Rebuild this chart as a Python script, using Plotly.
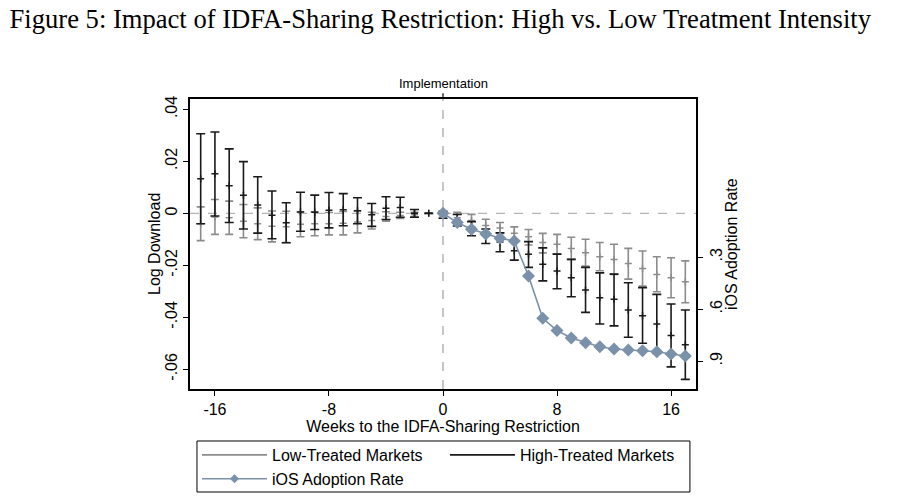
import plotly.graph_objects as go

weeks = list(range(-17, 18))

high_pt = [0.0133, 0.0152, 0.0106, 0.0070, 0.0032, -0.0007, -0.0036, 0.0005, 0.0004, 0.0012,
           0.0014, 0.0010, -0.0005, 0.0020, 0.0022, 0.0000, 0.0000, -0.0004, -0.0026, -0.0060,
           -0.0088, -0.0110, -0.0144, -0.0157, -0.0196, -0.0222, -0.0248, -0.0295, -0.0325, -0.0331,
           -0.0372, -0.0394, -0.0426, -0.0470, -0.0506]
high_lo = [-0.0040, -0.0010, -0.0035, -0.0060, -0.0076, -0.0098, -0.0113, -0.0069, -0.0062, -0.0056,
           -0.0048, -0.0040, -0.0050, -0.0024, -0.0015, -0.0015, 0.0000, -0.0019, -0.0049, -0.0086,
           -0.0116, -0.0148, -0.0180, -0.0208, -0.0260, -0.0290, -0.0321, -0.0381, -0.0426, -0.0433,
           -0.0477, -0.0500, -0.0539, -0.0591, -0.0639]
high_hi = [0.0306, 0.0313, 0.0248, 0.0199, 0.0141, 0.0086, 0.0041, 0.0081, 0.0070, 0.0080,
           0.0076, 0.0060, 0.0038, 0.0064, 0.0062, 0.0015, 0.0000, 0.0008, -0.0004, -0.0032,
           -0.0060, -0.0075, -0.0109, -0.0109, -0.0133, -0.0157, -0.0177, -0.0208, -0.0229, -0.0234,
           -0.0267, -0.0286, -0.0312, -0.0349, -0.0372]

low_pt = [-0.0040, -0.0014, -0.0017, -0.0030, -0.0040, -0.0050, -0.0052, -0.0042, -0.0040, -0.0040,
          -0.0038, -0.0033, -0.0028, -0.0012, -0.0008, -0.0004, 0.0000, -0.0002, -0.0017, -0.0028,
          -0.0047, -0.0056, -0.0077, -0.0090, -0.0112, -0.0119, -0.0135, -0.0152, -0.0167, -0.0178,
          -0.0193, -0.0212, -0.0235, -0.0248, -0.0263]
low_lo = [-0.0105, -0.0081, -0.0081, -0.0094, -0.0101, -0.0110, -0.0112, -0.0090, -0.0086, -0.0083,
          -0.0083, -0.0075, -0.0060, -0.0030, -0.0020, -0.0012, 0.0000, -0.0014, -0.0038, -0.0052,
          -0.0071, -0.0077, -0.0103, -0.0122, -0.0152, -0.0157, -0.0177, -0.0203, -0.0221, -0.0235,
          -0.0253, -0.0280, -0.0302, -0.0325, -0.0344]
low_hi = [0.0025, 0.0053, 0.0047, 0.0034, 0.0021, 0.0009, 0.0008, 0.0006, 0.0006, 0.0003,
          0.0007, 0.0009, 0.0004, 0.0006, 0.0004, 0.0004, 0.0000, 0.0008, 0.0004, -0.0004,
          -0.0023, -0.0035, -0.0052, -0.0062, -0.0077, -0.0081, -0.0092, -0.0100, -0.0112, -0.0119,
          -0.0135, -0.0145, -0.0167, -0.0171, -0.0183]

ios_weeks = list(range(0, 18))
ios_rate = [0.046, 0.100, 0.138, 0.166, 0.190, 0.206, 0.408, 0.652, 0.723, 0.766,
            0.793, 0.816, 0.829, 0.835, 0.839, 0.845, 0.858, 0.870]

x_ticks = [-16, -8, 0, 8, 16]
x_ticktext = ["-16", "-8", "0", "8", "16"]
y_ticks = [0.04, 0.02, 0, -0.02, -0.04, -0.06]
y_ticktext = [".04", ".02", "0", "-.02", "-.04", "-.06"]
y2_ticks = [0.3, 0.6, 0.9]
y2_ticktext = [".3", ".6", ".9"]

GRAY = "#8c8c8c"
BLACK = "#1a1a1a"
BLUE = "#7b91a9"
FONT = "Liberation Sans"

fig = go.Figure()

def add_series(pt, lo, hi, color, cap):
    fig.add_trace(go.Scatter(
        x=weeks, y=pt, mode="markers", showlegend=False,
        marker=dict(symbol="cross-thin", size=5, color=color, line=dict(color=color, width=1.5)),
        error_y=dict(type="data", symmetric=False,
                     array=[h - p for h, p in zip(hi, pt)],
                     arrayminus=[p - l for p, l in zip(pt, lo)],
                     color=color, thickness=1.6, width=cap),
    ))

add_series(low_pt, low_lo, low_hi, GRAY, 4)
add_series(high_pt, high_lo, high_hi, BLACK, 4.5)

fig.add_trace(go.Scatter(
    x=ios_weeks, y=ios_rate, mode="lines+markers", yaxis="y2", showlegend=False,
    line=dict(color=BLUE, width=1.6),
    marker=dict(symbol="diamond", size=10, color=BLUE),
))

# legend entries (two legends form the two columns)
fig.add_trace(go.Scatter(x=[None], y=[None], mode="lines", name="Low-Treated Markets",
                         line=dict(color=GRAY, width=1.6), legend="legend"))
fig.add_trace(go.Scatter(x=[None], y=[None], mode="lines+markers", name="iOS Adoption Rate",
                         line=dict(color=BLUE, width=1.6),
                         marker=dict(symbol="diamond", size=7, color=BLUE), legend="legend"))
fig.add_trace(go.Scatter(x=[None], y=[None], mode="lines", name="High-Treated Markets",
                         line=dict(color=BLACK, width=1.6), legend="legend2"))

# reference lines
fig.add_shape(type="line", xref="paper", yref="y", x0=0, x1=1, y0=0, y1=0,
              line=dict(color="#b4b4b4", width=1.2, dash="dash"), layer="below")
fig.add_shape(type="line", xref="x", yref="paper", x0=0, x1=0, y0=0, y1=1,
              line=dict(color="#a0a0a0", width=1.2, dash="dash"), layer="below")
fig.add_shape(type="line", xref="x", yref="paper", x0=0, x1=0, y0=1, y1=1.02,
              line=dict(color="black", width=1.2))
fig.add_annotation(x=0, xref="x", y=1.055, yref="paper", text="Implementation",
                   showarrow=False, font=dict(family=FONT, size=13, color="black"),
                   yanchor="middle")
# axis titles for the two y axes
fig.add_annotation(x=-0.0711, xref="paper", y=0.5, yref="paper", text="Log Download",
                   textangle=-90, showarrow=False, xanchor="center", yanchor="middle",
                   font=dict(family=FONT, size=16, color="black"))
fig.add_annotation(x=1.0692, xref="paper", y=0.5, yref="paper", text="iOS Adoption Rate",
                   textangle=-90, showarrow=False, xanchor="center", yanchor="middle",
                   font=dict(family=FONT, size=16, color="black"))
# legend frame
fig.add_shape(type="rect", xref="paper", yref="paper", x0=0.0138, x1=0.988,
              y0=-0.3552, y1=-0.1793, line=dict(color="black", width=1), fillcolor="rgba(0,0,0,0)")

legend_common = dict(orientation="v", xanchor="left", yanchor="top", yref="container",
                     xref="container", bgcolor="rgba(0,0,0,0)", borderwidth=0,
                     font=dict(size=16), tracegroupgap=0, itemwidth=65)

fig.update_layout(
    width=897, height=502,
    margin=dict(l=182, r=209, t=91, b=121, autoexpand=False),
    paper_bgcolor="white", plot_bgcolor="white",
    font=dict(family=FONT, size=16, color="black"),
    title=dict(text="Figure 5: Impact of IDFA-Sharing Restriction: High vs. Low Treatment Intensity",
               font=dict(family="Liberation Serif", size=26.6, color="black"),
               xref="container", x=1.5 / 897, xanchor="left",
               yref="container", y=1 - 1 / 502, yanchor="top", pad=dict(t=0, b=0)),
    xaxis=dict(range=[-17.75, 17.75], tickvals=x_ticks, ticktext=x_ticktext, ticks="outside",
               ticklen=5, tickcolor="black", showline=True, linecolor="black", linewidth=1.5,
               mirror=True, showgrid=False, zeroline=False, tickfont=dict(size=16),
               automargin=False,
               title=dict(text="Weeks to the IDFA-Sharing Restriction", standoff=0,
                          font=dict(size=16))),
    yaxis=dict(range=[-0.0676, 0.0440], tickvals=y_ticks, ticktext=y_ticktext, tickangle=-90,
               ticks="outside", ticklen=5, tickcolor="black", showline=True, linecolor="black",
               linewidth=1.5, mirror=True, showgrid=False, zeroline=False, tickfont=dict(size=16),
               automargin=False),
    yaxis2=dict(overlaying="y", side="right", range=[1.06, -0.613], tickvals=y2_ticks,
                ticktext=y2_ticktext, tickangle=-90, ticks="outside", ticklen=5, tickcolor="black",
                showline=True, linecolor="black", linewidth=1.5, showgrid=False, zeroline=False,
                tickfont=dict(size=16), automargin=False),
    legend=dict(x=189 / 897, y=1 - 430 / 502, **legend_common),
    legend2=dict(x=437 / 897, y=1 - 430 / 502, **legend_common),
)

fig.write_html("out.html")
